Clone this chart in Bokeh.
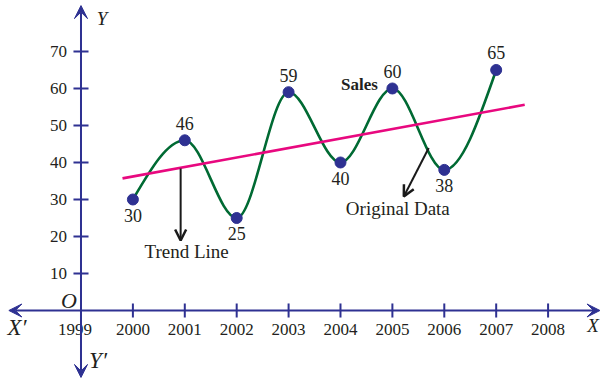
from bokeh.plotting import figure
from bokeh.models import Arrow, VeeHead, OpenHead
from bokeh.core.properties import value
from bokeh.embed import file_html
from bokeh.resources import INLINE

# ---- data ----
years = [2000, 2001, 2002, 2003, 2004, 2005, 2006, 2007]
sales = [30, 46, 25, 59, 40, 60, 38, 65]
trend_x = [1999.8, 2007.55]
trend_y = [35.7, 55.6]
x_ticks = [1999, 2000, 2001, 2002, 2003, 2004, 2005, 2006, 2007, 2008]
y_ticks = [10, 20, 30, 40, 50, 60, 70]

NAVY = "#2e3192"
GREEN = "#006a33"
PINK = "#e8087f"
TEXT = "#231f20"
SERIF = value("Liberation Serif")

p = figure(width=604, height=380, output_backend="svg", toolbar_location=None,
           x_range=(1997.449, 2009.087), y_range=(-18.92, 83.78),
           min_border=0, outline_line_color=None)
p.axis.visible = False
p.grid.visible = False
p.background_fill_color = "white"

# ---- axes with arrows ----
ox = x_ticks[0]
p.add_layout(Arrow(x_start=1997.61, y_start=0, x_end=2009.0, y_end=0,
                   line_color=NAVY, line_width=2,
                   start=VeeHead(size=13, fill_color=NAVY, line_color=NAVY, line_width=1),
                   end=VeeHead(size=13, fill_color=NAVY, line_color=NAVY, line_width=1)))
p.add_layout(Arrow(x_start=ox, y_start=-18.1, x_end=ox, y_end=82.4,
                   line_color=NAVY, line_width=2,
                   start=VeeHead(size=13, fill_color=NAVY, line_color=NAVY, line_width=1),
                   end=VeeHead(size=13, fill_color=NAVY, line_color=NAVY, line_width=1)))

# ticks
xt = x_ticks[1:]
p.segment(x0=xt, y0=[-1.9] * len(xt), x1=xt, y1=[1.9] * len(xt), line_color=NAVY, line_width=2)
p.segment(x0=[ox - 0.145] * len(y_ticks), y0=y_ticks, x1=[ox + 0.145] * len(y_ticks), y1=y_ticks,
          line_color=NAVY, line_width=2)

# tick labels
p.text(x=[ox] * len(y_ticks), y=y_ticks, text=[str(v) for v in y_ticks], x_offset=-14,
       text_align="right", text_baseline="middle", text_font=SERIF, text_font_size="17px",
       text_color=TEXT)
xoff = [-6 if t == ox else 0 for t in x_ticks]
p.text(x=x_ticks, y=[0] * len(x_ticks), text=[str(v) for v in x_ticks], x_offset=xoff, y_offset=19,
       text_align="center", text_baseline="middle", text_font=SERIF, text_font_size="17px",
       text_color=TEXT)

# axis names
p.text(x=[ox], y=[0], text=["O"], x_offset=-12, y_offset=-10, text_align="center",
       text_baseline="middle", text_font=SERIF, text_font_style="italic",
       text_font_size="22px", text_color=TEXT)
p.text(x=[ox], y=[0], text=["Y′"], x_offset=17, y_offset=50, text_align="center",
       text_baseline="middle", text_font=SERIF, text_font_style="italic",
       text_font_size="23px", text_color=TEXT)
p.text(x=[ox], y=[0], text=["X′"], x_offset=-64, y_offset=17, text_align="center",
       text_baseline="middle", text_font=SERIF, text_font_style="italic",
       text_font_size="23px", text_color=TEXT)
p.text(x=[ox], y=[y_ticks[-1]], text=["Y"], x_offset=21, y_offset=-33, text_align="center",
       text_baseline="middle", text_font=SERIF, text_font_style="italic",
       text_font_size="19px", text_color=TEXT)
p.text(x=[x_ticks[-1]], y=[0], text=["X"], x_offset=45, y_offset=15, text_align="center",
       text_baseline="middle", text_font=SERIF, text_font_style="italic",
       text_font_size="19px", text_color=TEXT)

# ---- smooth curve (cubic Hermite as Bezier segments) ----
n = len(years)
m = [0.0] * n
for i in range(1, n - 1):
    d0 = (sales[i] - sales[i - 1]) / (years[i] - years[i - 1])
    d1 = (sales[i + 1] - sales[i]) / (years[i + 1] - years[i])
    m[i] = 0.0 if d0 * d1 <= 0 else 2 / (1 / d0 + 1 / d1)
m[0] = (3 * (sales[1] - sales[0]) / (years[1] - years[0]) - m[1]) / 2
m[-1] = (3 * (sales[-1] - sales[-2]) / (years[-1] - years[-2]) - m[-2]) / 2
bx0, by0, bx1, by1, c0x, c0y, c1x, c1y = [], [], [], [], [], [], [], []
for i in range(n - 1):
    h = years[i + 1] - years[i]
    bx0.append(years[i]); by0.append(sales[i])
    bx1.append(years[i + 1]); by1.append(sales[i + 1])
    c0x.append(years[i] + h / 3); c0y.append(sales[i] + m[i] * h / 3)
    c1x.append(years[i + 1] - h / 3); c1y.append(sales[i + 1] - m[i + 1] * h / 3)
p.bezier(x0=bx0, y0=by0, x1=bx1, y1=by1, cx0=c0x, cy0=c0y, cx1=c1x, cy1=c1y,
         line_color=GREEN, line_width=2.6)

# trend line
p.line(trend_x, trend_y, line_color=PINK, line_width=2.6)

# points
p.scatter(years, sales, size=11, fill_color=NAVY, line_color=NAVY)

# data labels: above for peaks, below for troughs
offs = []
for i in range(n):
    left = sales[i - 1] if i > 0 else None
    right = sales[i + 1] if i < n - 1 else None
    neigh = [v for v in (left, right) if v is not None]
    offs.append(-17 if sales[i] > max(neigh) else 16)
p.text(x=years, y=sales, text=[str(v) for v in sales], y_offset=offs, text_align="center",
       text_baseline="middle", text_font=SERIF, text_font_size="18px", text_color=TEXT)

# annotations
p.text(x=[years[5]], y=[sales[5]], text=["Sales"], x_offset=-33, y_offset=-4, text_align="center",
       text_baseline="middle", text_font=SERIF, text_font_style="bold",
       text_font_size="17px", text_color=TEXT)
p.add_layout(Arrow(x_start=2000.92, y_start=38.4, x_end=2000.92, y_end=18.9,
                   line_color="#1a1a1a", line_width=2,
                   end=OpenHead(size=11, line_color="#1a1a1a", line_width=2.5)))
p.text(x=[2000.92], y=[18.9], text=["Trend Line"], x_offset=6, y_offset=11, text_align="center",
       text_baseline="middle", text_font=SERIF, text_font_size="19px", text_color=TEXT)
p.add_layout(Arrow(x_start=2005.70, y_start=43.9, x_end=2005.22, y_end=30.8,
                   line_color="#1a1a1a", line_width=2,
                   end=OpenHead(size=11, line_color="#1a1a1a", line_width=2.5)))
p.text(x=[2005.22], y=[30.8], text=["Original Data"], x_offset=-6, y_offset=12, text_align="center",
       text_baseline="middle", text_font=SERIF, text_font_size="19px", text_color=TEXT)

open("out.html", "w").write(file_html(p, INLINE))
